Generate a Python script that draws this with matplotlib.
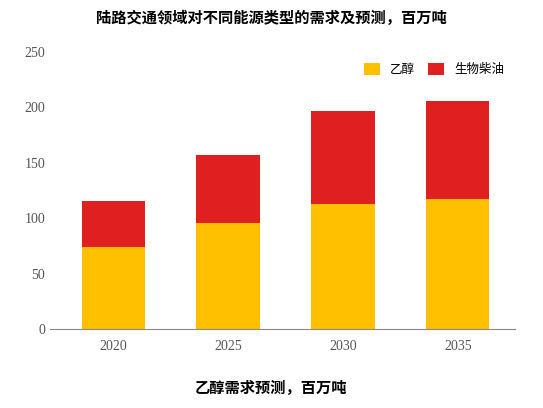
import matplotlib
matplotlib.use("Agg")
import matplotlib.pyplot as plt

plt.rcParams['font.family'] = ['Noto Sans CJK SC', 'DejaVu Sans']

years = ['2020', '2025', '2030', '2035']
ethanol = [74, 96, 113, 117]
biodiesel = [41.5, 61, 84, 89]

fig = plt.figure(figsize=(5.43, 4.08), dpi=100)
ax = fig.add_axes([0.092, 0.193, 0.857, 0.68])
x = range(len(years))
ax.bar(x, ethanol, width=0.55, color='#FFC000', label='乙醇')
ax.bar(x, biodiesel, width=0.55, bottom=ethanol, color='#E02020', label='生物柴油')
ax.set_ylim(0, 250)
ax.set_xlim(-0.55, 3.5)
ax.set_yticks(range(0, 251, 50))
ax.set_xticks(list(x))
ax.set_xticklabels(years)
for lbl in ax.get_xticklabels() + ax.get_yticklabels():
    lbl.set_family('Liberation Serif')
for s in ['top', 'right', 'left']:
    ax.spines[s].set_visible(False)
ax.spines['bottom'].set_color('#888888')
ax.tick_params(length=0, labelsize=10, colors='#555555')
ax.tick_params(axis='x', pad=8)
ax.legend(loc='upper right', ncol=2, frameon=False, fontsize=9, handlelength=1.3,
          handleheight=1.1, columnspacing=1.0, bbox_to_anchor=(1.0, 1.0))
fig.text(0.5, 0.955, '陆路交通领域对不同能源类型的需求及预测，百万吨', ha='center', va='center', fontsize=11, fontweight='bold')
fig.text(0.5, 0.05, '乙醇需求预测，百万吨', ha='center', va='center', fontsize=11, fontweight='bold')
fig.savefig('out.png', dpi=100)
